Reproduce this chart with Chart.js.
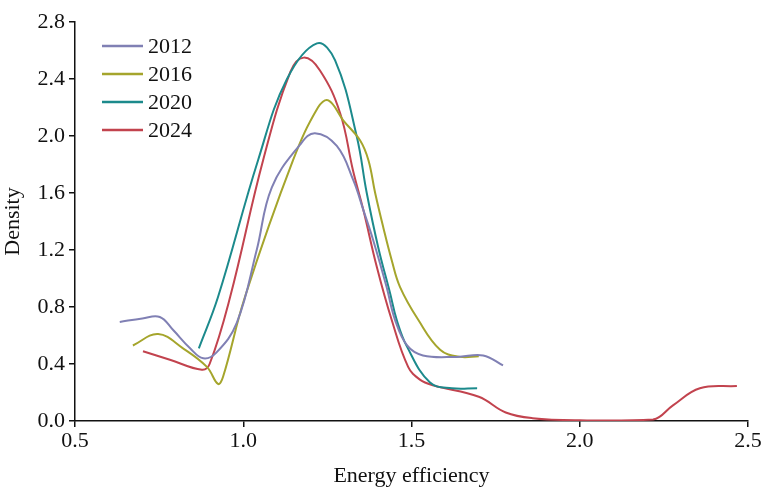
<!DOCTYPE html>
<html>
<head>
<meta charset="utf-8">
<script src="https://cdn.jsdelivr.net/npm/chart.js@4.4.1/dist/chart.umd.min.js"></script>
<style>
html,body{margin:0;padding:0;background:#fff;}
#wrap{width:763px;height:489px;position:relative;}
</style>
</head>
<body>
<div id="wrap"><canvas id="c" width="763" height="489"></canvas></div>
<script>
const seriesLabels = ["2012", "2016", "2020", "2024"];
const seriesColors = ["#8080b4", "#a5a52c", "#1c8a8c", "#c2434e"];

const x2012 = [0.633, 0.70, 0.752, 0.791, 0.842, 0.881, 0.92, 0.981, 1.04, 1.085, 1.169, 1.213, 1.278, 1.327, 1.357, 1.386, 1.426, 1.451, 1.487, 1.534, 1.635, 1.713, 1.772];
const y2012 = [0.695, 0.72, 0.73, 0.64, 0.51, 0.44, 0.48, 0.69, 1.2, 1.64, 1.94, 2.02, 1.93, 1.69, 1.48, 1.27, 0.94, 0.71, 0.53, 0.46, 0.45, 0.46, 0.39];

const x2016 = [0.672, 0.747, 0.821, 0.892, 0.925, 0.94, 1.005, 1.148, 1.222, 1.253, 1.297, 1.347, 1.372, 1.392, 1.416, 1.441, 1.466, 1.520, 1.585, 1.644, 1.70];
const y2016 = [0.53, 0.61, 0.51, 0.38, 0.26, 0.31, 0.87, 1.83, 2.20, 2.25, 2.11, 1.97, 1.83, 1.60, 1.36, 1.13, 0.94, 0.71, 0.50, 0.45, 0.455];

const x2020 = [0.868, 0.925, 1.044, 1.13, 1.219, 1.273, 1.337, 1.367, 1.401, 1.436, 1.456, 1.487, 1.555, 1.62, 1.695];
const y2020 = [0.51, 0.87, 1.83, 2.40, 2.65, 2.53, 2.00, 1.60, 1.22, 0.90, 0.71, 0.52, 0.27, 0.23, 0.23];

const x2024 = [0.702, 0.782, 0.877, 0.90, 0.961, 1.059, 1.14, 1.18, 1.228, 1.288, 1.326, 1.357, 1.397, 1.441, 1.49, 1.525, 1.564, 1.70, 1.78, 1.86, 2.0, 2.218, 2.277, 2.357, 2.467];
const y2024 = [0.49, 0.43, 0.36, 0.40, 0.87, 1.83, 2.45, 2.55, 2.46, 2.16, 1.76, 1.48, 1.08, 0.71, 0.38, 0.29, 0.25, 0.17, 0.06, 0.02, 0.005, 0.01, 0.11, 0.23, 0.245];

const xTicks = [0.5, 1.0, 1.5, 2.0, 2.5];
const yTicks = [0.0, 0.4, 0.8, 1.2, 1.6, 2.0, 2.4, 2.8];

const xsAll = [x2012, x2016, x2020, x2024];
const ysAll = [y2012, y2016, y2020, y2024];

const FONT = "'Liberation Serif', 'Times New Roman', serif";

const datasets = seriesLabels.map((lab, i) => ({
  label: lab,
  data: xsAll[i].map((x, j) => ({x: x, y: ysAll[i][j]})),
  borderColor: seriesColors[i],
  backgroundColor: seriesColors[i],
  borderWidth: 2,
  pointRadius: 0,
  fill: false,
  tension: 0.4
}));

const legendPlugin = {
  id: 'inLegend',
  afterDraw(chart) {
    const ctx = chart.ctx;
    ctx.save();
    ctx.font = "22px " + FONT;
    ctx.textBaseline = 'middle';
    ctx.textAlign = 'left';
    chart.data.datasets.forEach((ds, i) => {
      const y = 46 + i * 28;
      ctx.strokeStyle = ds.borderColor;
      ctx.lineWidth = 2.5;
      ctx.beginPath();
      ctx.moveTo(102, y);
      ctx.lineTo(143, y);
      ctx.stroke();
      ctx.fillStyle = '#111';
      ctx.fillText(ds.label, 148, y + 1);
    });
    ctx.restore();
  }
};

new Chart(document.getElementById('c'), {
  type: 'line',
  data: { datasets: datasets },
  plugins: [legendPlugin],
  options: {
    responsive: false,
    animation: false,
    layout: { padding: { top: 22, right: 15, left: 0, bottom: 0 } },
    plugins: { legend: { display: false }, tooltip: { enabled: false } },
    scales: {
      x: {
        type: 'linear',
        min: 0.5, max: 2.5,
        afterBuildTicks(s) { s.ticks = xTicks.map(v => ({value: v})); },
        afterFit(s) { s.height = 68; },
        ticks: {
          callback: v => Number(v).toFixed(1),
          color: '#111',
          font: { family: FONT, size: 22 },
          padding: 1,
          maxRotation: 0
        },
        grid: { drawOnChartArea: false, drawTicks: true, tickLength: 6, color: '#111', lineWidth: 1.5 },
        border: { display: true, color: '#111', width: 1.5 },
        title: { display: true, text: 'Energy efficiency', color: '#111', font: { family: FONT, size: 22 }, padding: { top: 4, bottom: 0 } }
      },
      y: {
        type: 'linear',
        min: 0, max: 2.8,
        afterBuildTicks(s) { s.ticks = yTicks.map(v => ({value: v})); },
        afterFit(s) { s.width = 75; },
        ticks: {
          callback: v => Number(v).toFixed(1),
          color: '#111',
          font: { family: FONT, size: 22 },
          padding: 4
        },
        grid: { drawOnChartArea: false, drawTicks: true, tickLength: 6, color: '#111', lineWidth: 1.5 },
        border: { display: true, color: '#111', width: 1.5 },
        title: { display: true, text: 'Density', color: '#111', font: { family: FONT, size: 22 }, padding: { top: 0, bottom: 0 } }
      }
    }
  }
});
</script>
</body>
</html>
